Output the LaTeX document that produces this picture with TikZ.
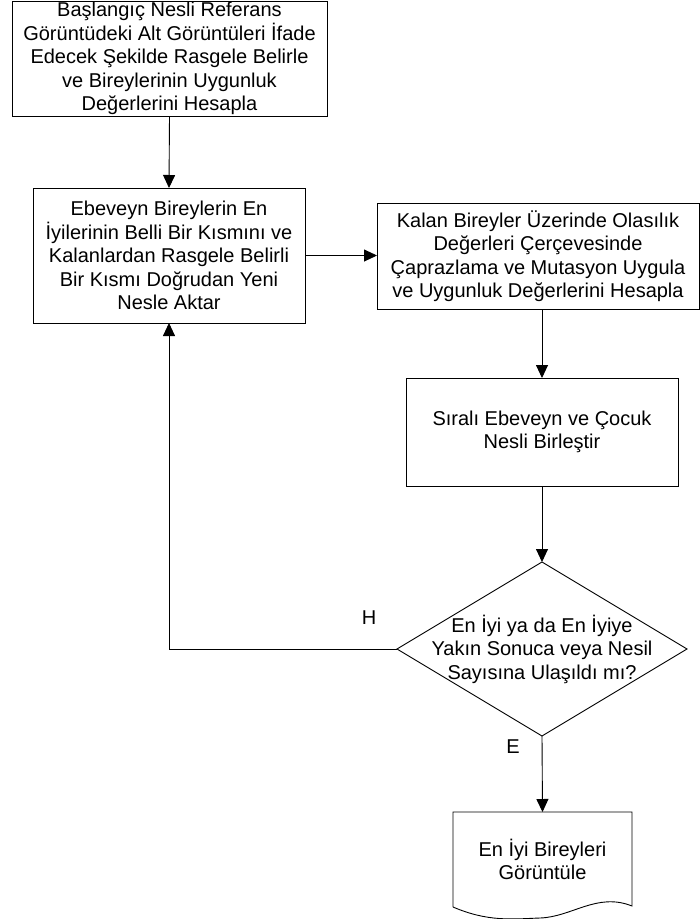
\documentclass[tikz,border=0pt]{standalone}
\usepackage{fontspec}
\setmainfont{Liberation Sans}
\usetikzlibrary{arrows.meta,shapes.geometric}

\tikzset{
  procbox/.style={draw=black, line width=0.9pt, rectangle, inner sep=0pt, outer sep=0pt,
    align=center, font=\fontsize{20}{23.5}\selectfont},
  plain/.style={inner sep=0pt, outer sep=0pt, align=center, font=\fontsize{20}{23.5}\selectfont},
  flow/.style={draw=black, line width=0.9pt, -{Triangle[length=13pt,width=12pt]}},
  link/.style={draw=black, line width=0.9pt},
  decision/.style={draw=black, line width=0.9pt, diamond, inner sep=0pt, outer sep=0pt}
}

\begin{document}
\begin{tikzpicture}[x=1pt,y=-1pt]
  \useasboundingbox (0,0) rectangle (700,919);
  \fill[white] (0,0) rectangle (700,919);

  % process steps
  \node[procbox, minimum width=315pt, minimum height=115pt] (init) at (169.5,58.5)
    {Başlangıç Nesli Referans\\Görüntüdeki Alt Görüntüleri İfade\\Edecek Şekilde Rasgele Belirle\\ve Bireylerinin Uygunluk\\Değerlerini Hesapla};

  \node[procbox, minimum width=272pt, minimum height=135pt] (elite) at (169,255.5)
    {Ebeveyn Bireylerin En\\İyilerinin Belli Bir Kısmını ve\\Kalanlardan Rasgele Belirli\\Bir Kısmı Doğrudan Yeni\\Nesle Aktar};

  \node[procbox, minimum width=322pt, minimum height=106pt] (cross) at (538,256)
    {Kalan Bireyler Üzerinde Olasılık\\Değerleri Çerçevesinde\\Çaprazlama ve Mutasyon Uygula\\ve Uygunluk Değerlerini Hesapla};

  \node[procbox, minimum width=272pt, minimum height=108pt] (merge) at (542,432)
    {Sıralı Ebeveyn ve Çocuk\\Nesli Birleştir};

  % decision
  \node[decision, minimum width=290pt, minimum height=174pt] (check) at (542,649) {};
  \node[plain] (checktext) at (542,649)
    {En İyi ya da En İyiye\\Yakın Sonuca veya Nesil\\Sayısına Ulaşıldı mı?};

  % output document
  \node[plain, minimum width=179pt, minimum height=95pt] (result) at (542.5,859.5)
    {En İyi Bireyleri\\Görüntüle};
  \draw[link] (453,907) -- (result.north west) -- (result.north east) -- (632,906)
    .. controls (597,892) and (572,917) .. (540,918)
    .. controls (512,919) and (488,922) .. (453,907);

  % connectors
  \draw[flow] (init.south) -- (elite.north);
  \draw[flow] (elite.east) -- (elite.east -| cross.west);
  \draw[flow] (merge.north |- cross.south) -- (merge.north);
  \draw[flow] (merge.south) -- (check.north);
  \draw[flow] (check.south) -- (result.north);
  \draw[flow] (check.west) -| (elite.south);

  % branch labels
  \node[plain] (nolabel) at (369,618) {H};
  \node[plain] (yeslabel) at (513,747) {E};
\end{tikzpicture}
\end{document}
